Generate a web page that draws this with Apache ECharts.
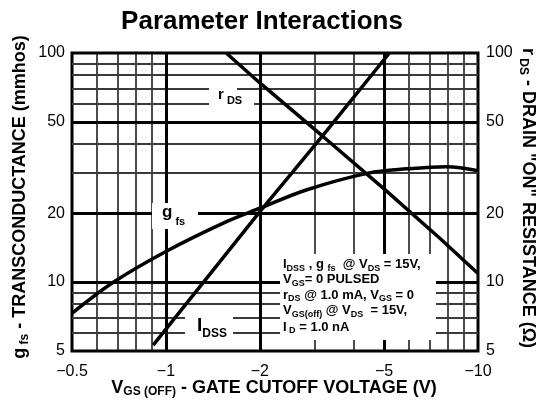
<!DOCTYPE html>
<html>
<head>
<meta charset="utf-8">
<title>Parameter Interactions</title>
<script src="https://cdn.jsdelivr.net/npm/echarts@6/dist/echarts.min.js"></script>
<style>
  html, body { margin: 0; padding: 0; background: #fff; }
  #chart { width: 543px; height: 405px; }
</style>
</head>
<body>
<div id="chart"></div>
<script>
// Vgs(off) 用绝对值画在对数轴上，刻度标签再加负号
const gfsVolts = [0.5, 0.68, 1, 1.57, 2, 2.83, 4.45, 5.91, 7.94, 10];
const gfsMmhos = [7.3, 10, 13.6, 18.4, 21.0, 25.3, 29.9, 31.2, 31.9, 30.6];

const rdsVolts = [1.56, 2, 3.2, 5, 7.56, 10];
const rdsOhms = [100, 74, 43, 25.5, 15.5, 10.9];

const idssVolts = [0.91, 1.32, 2, 3.2, 5.2];
const idssMa = [5.3, 10, 20.3, 44, 100];

// 刻度与网格
const xTicks = [0.5, 1, 2, 5, 10];
const xTickLabels = ['\u22120.5', '\u22121', '\u22122', '\u22125', '\u221210'];
const yTicks = [5, 10, 20, 50, 100];
const yTickLabels = ['5', '10', '20', '50', '100'];
const xMajor = [1, 2, 5];
const xMinor = [0.6, 0.7, 0.8, 0.9, 3, 4, 6, 7, 8, 9];
const yMajor = [10, 20, 50];
const yMinor = [6, 7, 8, 9, 30, 40, 60, 70, 80, 90];

const FONT = '"Liberation Sans", Arial, Helvetica, sans-serif';

const pairs = (xs, ys) => xs.map((x, i) => [x, ys[i]]);

// 下标用的 rich 样式
const subRich = (main, sub, pad) => ({
  m: { fontSize: main, fontWeight: 'bold', fontFamily: FONT, color: '#000', lineHeight: main, verticalAlign: 'top' },
  s: { fontSize: sub, fontWeight: 'bold', fontFamily: FONT, color: '#000', lineHeight: sub, verticalAlign: 'top', padding: [pad, 0, 0, 0] }
});

const tickLabel = (pos, text, dist) => ({
  show: true, position: pos, formatter: text,
  fontSize: 16, fontFamily: FONT, color: '#000', distance: dist
});
const hidden = { color: 'rgba(255,255,255,0)', width: 1 };

const gridMarks = [];
xMinor.forEach(v => gridMarks.push({ xAxis: v, lineStyle: { width: 1.5, color: '#111' } }));
yMinor.forEach(v => gridMarks.push({ yAxis: v, lineStyle: { width: 2, color: '#3a3a3a' } }));
xMajor.forEach(v => gridMarks.push({ xAxis: v, lineStyle: { width: 3, color: '#000' } }));
yMajor.forEach(v => gridMarks.push({ yAxis: v, lineStyle: { width: 3, color: '#000' } }));
xTicks.forEach((v, i) => gridMarks.push({
  xAxis: v, lineStyle: hidden, label: tickLabel('start', xTickLabels[i], 13)
}));
yTicks.forEach((v, i) => {
  gridMarks.push({ yAxis: v, lineStyle: hidden, label: tickLabel('start', yTickLabels[i], 7) });
  gridMarks.push({ yAxis: v, lineStyle: hidden, label: tickLabel('end', yTickLabels[i], 8) });
});

const curve = (name, data, smooth) => ({
  name: name,
  type: 'line',
  z: 3,
  data: data,
  smooth: smooth,
  showSymbol: false,
  lineStyle: { color: '#000', width: 3.5 }
});

const whiteBox = (x, y, w, h) => ({
  type: 'rect', z: 100, shape: { x: x, y: y, width: w, height: h },
  style: { fill: '#fff' }
});
const richText = (x, y, text, rich, extra) => ({
  type: 'text', z: 101, x: x, y: y,
  style: Object.assign({ text: text, rich: rich, fill: '#000' }, extra || {})
});
const centered = { align: 'center', verticalAlign: 'middle' };

const noteRich = subRich(13, 9, 6);

const chart = echarts.init(document.getElementById('chart'));

chart.setOption({
  animation: false,
  backgroundColor: '#fff',
  grid: {
    left: 72, right: 65, top: 53, bottom: 54,
    show: true, borderColor: '#000', borderWidth: 3
  },
  xAxis: {
    type: 'log', min: 0.5, max: 10,
    axisLine: { show: false }, axisTick: { show: false },
    axisLabel: { show: false }, splitLine: { show: false }
  },
  yAxis: {
    type: 'log', min: 5, max: 100,
    axisLine: { show: false }, axisTick: { show: false },
    axisLabel: { show: false }, splitLine: { show: false }
  },
  series: [
    {
      type: 'line', data: [], z: 1,
      markLine: {
        silent: true, z: 1, animation: false,
        symbol: ['none', 'none'],
        lineStyle: { type: 'solid' },
        label: { show: false },
        emphasis: { disabled: true },
        data: gridMarks
      }
    },
    curve('gfs', pairs(gfsVolts, gfsMmhos), 0.35),
    curve('rDS', pairs(rdsVolts, rdsOhms), false),
    curve('IDSS', pairs(idssVolts, idssMa), false)
  ],
  graphic: [
    {
      type: 'text', x: 262, y: 22, z: 101,
      style: { text: 'Parameter Interactions', font: 'bold 26px ' + FONT, fill: '#000', align: 'center', verticalAlign: 'middle' }
    },
    Object.assign(richText(20, 197, '{m|g}{s| fs}{m| - TRANSCONDUCTANCE (mmhos)}', subRich(18, 12, 8), centered),
      { rotation: Math.PI / 2 }),
    Object.assign(richText(528, 198, '{m|r}{s| DS}{m| - DRAIN "ON" RESISTANCE (\u03a9)}', subRich(18, 12, 8), centered),
      { rotation: -Math.PI / 2 }),
    richText(274, 388, '{m|V}{s|GS (OFF)}{m| - GATE CUTOFF VOLTAGE (V)}', subRich(18, 12, 7), centered),

    // 曲线名称
    whiteBox(209, 84, 28, 12),
    whiteBox(209, 97, 45, 12),
    richText(218, 87, '{m|r}{s| DS}', subRich(15, 11, 8)),
    whiteBox(152, 203, 46, 26),
    richText(162, 204, '{m|g}{s| fs}', subRich(17, 11, 12)),
    whiteBox(185, 312, 48, 28),
    richText(197, 316, '{m|I}{s|DSS}', subRich(19, 12, 12)),

    // 测试条件说明
    whiteBox(280, 254, 156, 86),
    richText(283, 258, '{m|I}{s|DSS}{m| , g }{s|fs}{m|  @ V}{s|DS}{m| = 15V,}', noteRich),
    richText(283, 273, '{m|V}{s|GS}{m|= 0 PULSED}', noteRich),
    richText(283, 288.5, '{m|r}{s|DS}{m| @ 1.0 mA, V}{s|GS}{m| = 0}', noteRich),
    richText(283, 304, '{m|V}{s|GS(off)}{m| @ V}{s|DS}{m|  = 15V,}', noteRich),
    richText(283, 320.5, '{m|I}{s| D}{m| = 1.0 nA}', noteRich)
  ]
});
</script>
</body>
</html>
